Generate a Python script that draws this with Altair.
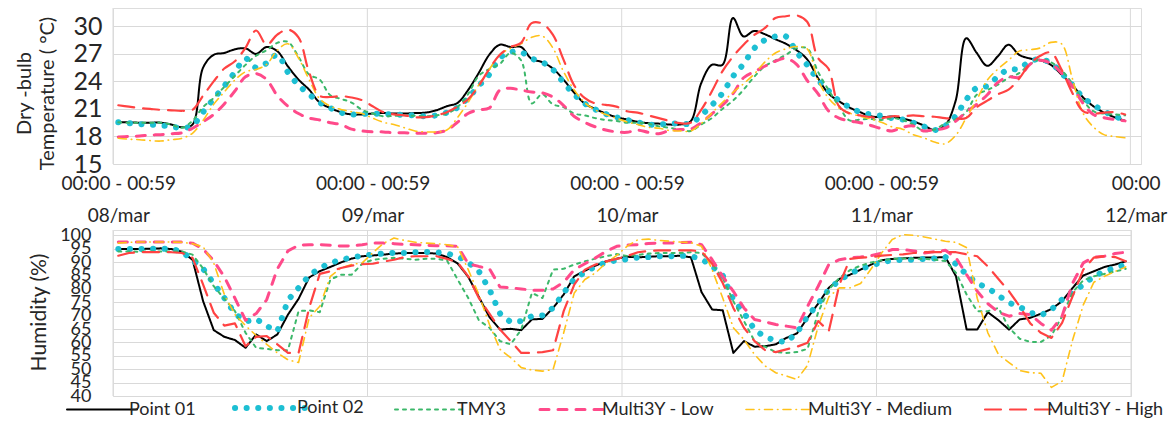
import json
import altair as alt
import pandas as pd

FONT = "Lato"
TEXT = "#262626"
GRID = "#d9d9d9"

series_names = ["Point 01", "Point 02", "TMY3", "Multi3Y - Low", "Multi3Y - Medium", "Multi3Y - High"]
series_colors = ["#000000", "#1DBFD3", "#3CB86A", "#FF4A8A", "#FFC21A", "#FF4242"]
series_dashes = [[1, 0], [0.1, 11.5], [3, 5], [9, 9], [8, 5, 0.5, 5], [16, 9]]
series_widths = [2, 6, 2, 3, 1.6, 2.2]

hours = list(range(96))
tick_hours = [0, 24, 48, 72, 96]
tick_times = ["00:00 - 00:59", "00:00 - 00:59", "00:00 - 00:59", "00:00 - 00:59", "00:00"]
tick_dates = ["08/mar", "09/mar", "10/mar", "11/mar", "12/mar"]
temp_ticks = [15, 18, 21, 24, 27, 30]
hum_ticks = [40, 45, 50, 55, 60, 65, 70, 75, 80, 85, 90, 95, 100]

# Dry-bulb temperature (°C), hourly
temp_p01 = [19.55, 19.55, 19.5, 19.5, 19.5, 19.3, 19.0, 19.3, 25.5, 26.9,
            27.1, 27.5, 27.6, 27.0, 27.75, 27.3, 25.65, 24.2, 23.1, 21.7,
            21.1, 20.65, 20.4, 20.4, 20.5, 20.55, 20.5, 20.5, 20.55, 20.6,
            20.85, 21.3, 21.65, 23.05, 24.9, 26.9, 28.0, 27.75, 27.75, 26.45,
            26.1, 25.4, 24.2, 22.8, 21.6, 21.0, 20.5, 20.1, 19.85, 19.6,
            19.45, 19.4, 19.3, 19.3, 19.65, 23.8, 25.8, 25.8, 30.9, 28.9,
            29.5, 29.15, 28.6, 28.1, 27.4, 26.4, 24.4, 22.7, 21.85, 21.15,
            20.65, 20.2, 20.1, 20.15, 19.95, 19.65, 19.2, 18.7, 19.2, 21.85,
            28.7, 27.1, 25.7, 26.75, 28.0, 26.9, 26.5, 26.3, 25.8, 24.75,
            23.6, 22.3, 21.3, 20.6, 20.1, 19.7]
temp_p02 = [19.55, 19.45, 19.35, 19.3, 19.2, 19.1, 18.9, 19.2, 20.65, 22.1,
            23.5, 25.0, 26.5, 25.5, 26.0, 26.9, 25.0, 23.6, 22.6, 21.7,
            21.1, 20.6, 20.4, 20.45, 20.5, 20.45, 20.4, 20.35, 20.3, 20.2,
            20.3, 20.6, 21.15, 22.2, 23.5, 24.75, 26.55, 27.2, 27.2, 26.5,
            26.1, 25.3, 23.9, 22.6, 21.6, 20.95, 20.45, 20.1, 19.8, 19.55,
            19.3, 19.3, 19.4, 19.4, 19.4, 20.3, 21.4, 22.7, 24.55, 25.9,
            27.6, 28.5, 28.9, 28.9, 27.2, 25.8, 24.2, 23.0, 21.9, 21.2,
            20.65, 20.4, 20.25, 20.0, 19.85, 19.5, 19.1, 18.7, 19.15, 20.2,
            22.0, 23.3, 23.5, 24.55, 25.3, 25.35, 26.2, 26.4, 26.0, 24.9,
            23.65, 22.3, 21.45, 20.75, 20.2, 19.85]
temp_tmy3 = [19.55, 19.5, 19.5, 19.5, 19.5, 19.3, 18.95, 19.7, 21.2, 22.2,
             23.4, 24.6, 25.8, 26.8, 27.4, 28.2, 28.3, 26.7, 24.75, 24.2,
             22.5, 22.1, 21.7, 20.9, 20.5, 20.2, 20.25, 20.3, 20.25, 20.2,
             20.3, 20.5, 21.2, 22.6, 24.6, 25.35, 25.9, 27.1, 26.3, 21.6,
             22.6, 21.5, 21.2, 20.5, 20.3, 20.0, 19.8, 19.7, 19.5, 19.5,
             19.4, 19.1, 18.95, 18.75, 18.6, 19.3, 20.0, 21.0, 21.9, 23.1,
             24.5, 25.65, 26.3, 26.9, 27.6, 27.6, 25.1, 23.1, 21.3, 19.75,
             19.85, 19.9, 19.8, 20.0, 19.8, 19.3, 18.6, 18.75, 19.4, 19.85,
             20.65, 22.55, 23.05, 23.65, 24.4, 24.9, 25.85, 26.4, 26.1, 25.2,
             23.8, 22.0, 20.75, 20.5, 20.4, 20.3]
temp_low = [17.95, 18.0, 18.05, 18.15, 18.2, 18.3, 18.4, 18.9, 19.6, 20.4,
            21.55, 22.95, 24.5, 24.85, 24.2, 22.45, 21.3, 20.5, 20.0, 19.8,
            19.5, 19.3, 18.8, 18.6, 18.5, 18.5, 18.4, 18.4, 18.35, 18.35,
            18.4, 18.7, 19.55, 20.5, 20.9, 21.1, 23.05, 23.25, 23.05, 22.85,
            22.75, 22.3, 21.4, 20.2, 19.55, 19.05, 18.7, 18.5, 18.45, 18.7,
            18.45, 18.3, 18.65, 18.75, 18.8, 19.5, 20.45, 21.4, 22.65, 24.4,
            25.05, 25.65, 26.2, 26.5, 25.85, 24.1, 22.7, 20.8, 20.0, 19.7,
            19.5, 19.2, 18.85, 18.6, 19.0, 19.15, 18.6, 18.75, 18.9, 19.65,
            20.65, 21.5, 22.55, 23.9, 24.5, 24.45, 25.85, 26.3, 25.95, 24.9,
            23.5, 21.65, 20.4, 20.05, 19.85, 19.7]
temp_med = [17.8, 17.7, 17.65, 17.55, 17.5, 17.65, 17.8, 18.35, 19.75, 21.5,
            22.85, 24.15, 25.05, 25.3, 25.85, 27.4, 28.1, 26.55, 24.2, 22.1,
            21.3, 20.95, 20.7, 20.5, 20.0, 19.55, 19.3, 18.95, 18.6, 18.5,
            18.5, 18.7, 20.05, 21.7, 23.6, 25.3, 26.9, 27.6, 28.1, 28.8,
            28.95, 27.65, 25.1, 23.1, 21.7, 20.9, 20.4, 20.0, 19.6, 19.3,
            19.0, 18.9, 18.65, 18.6, 18.6, 19.4, 20.55, 21.7, 22.8, 23.75,
            24.8, 26.1, 27.1, 27.55, 27.8, 27.55, 24.2, 22.2, 21.1, 20.55,
            20.2, 19.9, 19.55, 19.05, 18.8, 18.2, 17.85, 17.4, 17.2, 18.1,
            20.0, 22.0, 24.15, 25.35, 26.3, 27.3, 27.45, 27.65, 28.25, 28.1,
            24.4, 20.6, 19.05, 18.2, 18.0, 17.85]
temp_high = [21.4, 21.25, 21.1, 21.0, 20.9, 20.85, 20.8, 20.9, 22.45, 24.0,
             25.4, 26.2, 27.65, 29.55, 28.0, 29.1, 29.65, 28.8, 25.0, 22.45,
             22.3, 22.4, 22.25, 21.95, 21.3, 20.65, 20.4, 20.3, 20.1, 20.1,
             20.3, 20.65, 21.25, 22.05, 23.5, 25.35, 26.9, 27.75, 28.2, 30.35,
             30.3, 29.1, 26.4, 23.6, 22.2, 21.6, 21.45, 21.25, 20.75, 20.6,
             20.3, 20.0, 19.7, 19.45, 19.5, 20.9, 22.9, 25.1, 26.7, 28.0,
             29.05, 29.8, 30.9, 31.1, 31.2, 30.5, 26.6, 25.4, 21.3, 20.5,
             20.3, 20.1, 20.0, 20.2, 20.2, 20.3, 20.2, 20.15, 20.0, 19.95,
             20.0, 21.2, 21.9, 22.6, 23.1, 24.3, 25.9, 26.8, 27.15, 25.3,
             22.8, 20.8, 20.5, 20.6, 20.65, 20.4]

# Relative humidity (%), hourly
hum_p01 = [94.9, 94.9, 94.9, 95.0, 95.15, 94.9, 93.9, 90.9, 75.4, 64.6,
           62.1, 60.9, 58.0, 63.0, 60.5, 63.0, 70.4, 76.3, 84.3, 86.6,
           88.2, 89.9, 91.3, 92.2, 92.5, 92.8, 93.2, 93.4, 93.4, 93.4,
           93.2, 91.9, 89.5, 84.5, 77.0, 69.5, 64.8, 65.1, 64.6, 68.6,
           68.8, 72.9, 77.9, 84.7, 86.8, 88.7, 90.3, 91.3, 92.0, 91.8,
           92.0, 92.2, 92.2, 92.4, 91.8, 78.8, 72.3, 72.0, 56.1, 60.5,
           58.4, 58.6, 59.3, 61.7, 63.4, 69.2, 74.5, 80.4, 83.7, 85.3,
           87.2, 89.1, 90.7, 91.2, 91.4, 91.6, 91.7, 91.7, 91.9, 84.7,
           64.8, 64.8, 71.3, 68.3, 64.8, 68.6, 69.2, 70.7, 72.5, 75.4,
           80.4, 85.0, 86.6, 88.2, 89.1, 90.3]
hum_p02 = [94.9, 94.9, 94.9, 95.0, 95.0, 94.9, 94.0, 90.7, 87.5, 82.0,
           76.6, 70.8, 67.8, 68.8, 66.1, 64.2, 75.8, 80.4, 85.0, 87.8,
           89.7, 90.9, 91.7, 92.4, 92.8, 93.2, 93.4, 93.4, 93.7, 93.8,
           93.7, 93.2, 92.2, 89.9, 86.6, 79.8, 70.8, 67.6, 68.0, 69.8,
           70.1, 72.9, 78.5, 83.7, 86.2, 88.4, 89.9, 90.7, 91.1, 91.7,
           91.9, 92.2, 92.2, 92.4, 92.2, 91.2, 88.4, 85.0, 76.0, 71.1,
           64.8, 62.0, 60.7, 60.1, 63.6, 69.8, 74.5, 79.8, 83.2, 85.7,
           87.5, 88.7, 89.9, 90.7, 90.9, 90.9, 91.2, 91.4, 91.9, 89.3,
           85.3, 82.0, 80.4, 77.5, 74.8, 73.3, 71.1, 70.1, 72.3, 76.0,
           78.5, 81.6, 84.7, 86.6, 87.8, 89.1]
hum_tmy3 = [94.0, 94.0, 93.9, 94.0, 94.0, 94.0, 94.0, 92.8, 87.6, 81.0,
            76.3, 71.7, 63.6, 58.0, 57.6, 57.1, 57.1, 71.7, 72.0, 71.3,
            83.5, 85.3, 85.3, 89.4, 90.9, 91.3, 91.6, 91.3, 90.9, 91.3,
            91.3, 90.6, 83.5, 76.6, 68.3, 65.5, 60.5, 59.3, 64.8, 78.5,
            76.6, 87.2, 87.5, 89.1, 90.3, 91.3, 92.2, 93.0, 92.3, 92.7,
            93.2, 93.4, 93.4, 93.4, 93.7, 93.4, 89.4, 84.1, 75.4, 68.0,
            60.5, 58.4, 56.4, 56.1, 56.4, 57.6, 71.3, 79.8, 84.1, 87.0,
            88.7, 89.9, 90.7, 91.2, 91.4, 91.3, 91.2, 90.9, 90.4, 86.0,
            77.9, 71.7, 71.7, 72.9, 65.5, 61.4, 60.2, 60.2, 62.6, 69.8,
            78.8, 83.2, 84.7, 85.6, 86.5, 87.5]
hum_low = [97.5, 97.5, 97.5, 97.5, 97.5, 97.5, 97.5, 97.1, 94.9, 90.5,
           84.5, 76.5, 68.3, 70.8, 76.0, 87.5, 94.2, 96.3, 96.5, 96.5,
           96.3, 96.0, 96.1, 96.5, 97.1, 97.1, 96.9, 96.6, 96.5, 96.3,
           96.1, 96.1, 95.9, 89.4, 88.4, 87.5, 80.7, 80.4, 80.0, 79.5,
           79.5, 80.0, 82.5, 87.2, 89.4, 91.6, 94.0, 95.9, 96.4, 96.5,
           97.0, 97.1, 97.1, 97.3, 97.4, 96.5, 90.9, 84.7, 79.1, 72.9,
           68.6, 67.7, 66.7, 66.1, 65.5, 73.5, 81.0, 89.1, 90.9, 91.6,
           91.9, 92.4, 93.4, 94.7, 94.7, 94.2, 93.4, 93.9, 94.4, 91.6,
           85.3, 79.1, 74.5, 71.3, 69.8, 70.8, 70.4, 67.1, 64.6, 69.8,
           82.2, 89.7, 91.9, 92.2, 93.2, 93.7]
hum_med = [97.1, 97.4, 97.5, 97.5, 97.5, 97.5, 97.4, 96.9, 95.7, 89.7,
           77.9, 70.4, 66.3, 62.6, 59.3, 56.1, 53.5, 52.5, 69.2, 73.5,
           84.7, 87.8, 89.1, 89.7, 93.5, 97.0, 99.0, 98.1, 97.4, 97.1,
           96.9, 96.5, 95.7, 87.2, 77.9, 66.7, 57.4, 54.3, 50.6, 49.7,
           49.3, 49.9, 63.6, 78.5, 83.5, 86.0, 89.7, 92.5, 96.0, 98.4,
           98.6, 98.1, 97.8, 97.5, 97.3, 95.9, 87.2, 76.6, 65.5, 61.1,
           55.5, 51.2, 48.7, 47.5, 46.2, 51.5, 66.0, 77.0, 80.4, 80.4,
           82.0, 87.5, 93.5, 98.5, 100.3, 100.0, 99.4, 98.6, 97.8, 97.4,
           95.4, 76.5, 63.6, 55.5, 52.5, 49.5, 48.7, 48.5, 43.2, 45.5,
           61.0, 74.0, 82.5, 84.7, 86.5, 88.2]
hum_high = [92.4, 93.4, 93.7, 93.7, 93.7, 93.7, 93.4, 91.6, 81.6, 71.1,
            66.3, 67.1, 58.6, 62.1, 62.4, 59.3, 56.1, 56.1, 72.9, 85.6,
            86.6, 87.8, 88.7, 89.2, 89.4, 90.2, 90.9, 91.9, 92.2, 92.2,
            92.2, 91.2, 89.9, 84.7, 76.6, 70.8, 64.8, 60.5, 56.1, 56.1,
            56.4, 57.1, 71.7, 81.6, 87.2, 89.1, 90.3, 91.2, 92.3, 93.7,
            94.2, 94.4, 94.4, 94.4, 94.4, 94.0, 89.4, 82.2, 72.9, 65.5,
            60.5, 57.1, 56.4, 57.4, 58.4, 59.9, 68.0, 64.2, 81.6, 91.2,
            91.7, 91.9, 92.4, 92.7, 92.9, 93.4, 93.7, 93.7, 93.7, 93.7,
            92.9, 92.2, 88.4, 83.7, 79.1, 73.5, 67.1, 63.6, 61.7, 67.3,
            77.3, 87.2, 91.7, 92.2, 91.9, 90.3]

temp_series = [temp_p01, temp_p02, temp_tmy3, temp_low, temp_med, temp_high]
hum_series = [hum_p01, hum_p02, hum_tmy3, hum_low, hum_med, hum_high]


def long_df(all_values):
    rows = []
    for name, vals in zip(series_names, all_values):
        for h, v in zip(hours, vals):
            rows.append({"hour": h, "series": name, "value": v})
    return pd.DataFrame(rows)


temp_df = long_df(temp_series)
hum_df = long_df(hum_series)
day_edges = pd.DataFrame({"hour": [d * 24 - 0.5 for d in range(5)]})

label_expr = " : ".join(
    f"datum.value == {h} ? {json.dumps([t, d])}"
    for h, t, d in zip(tick_hours, tick_times, tick_dates)
) + " : ''"

color_scale = alt.Scale(domain=series_names, range=series_colors)
dash_scale = alt.Scale(domain=series_names, range=series_dashes)

# per-series stroke width (a line mark takes it from the first row of each series)
width_conditions = [
    {"test": f"datum.series === {json.dumps(n)}", "value": w}
    for n, w in zip(series_names, series_widths) if w != 2
]
stroke_width = alt.StrokeWidthValue(2, condition=width_conditions)
legend_width_expr = "".join(
    f"datum.value === {json.dumps(n)} ? {w} : "
    for n, w in zip(series_names, series_widths)
) + "2"

# ---------- top panel ----------
x_top_axis = alt.Axis(values=tick_hours, labelExpr=label_expr, grid=False, ticks=False,
                      tickSize=0, domain=False, labelFont=FONT, labelFontSize=19,
                      labelColor=TEXT, labelLineHeight=32, labelPadding=10,
                      labelOverlap=False, labelFlush=False, labelAngle=0, title=None)
x_top = alt.X("hour:Q", scale=alt.Scale(domain=[-0.5, 96.5], nice=False, zero=False),
              axis=x_top_axis)

y_top = alt.Y("value:Q", scale=alt.Scale(domain=[15, 32], nice=False, zero=False),
              axis=alt.Axis(values=temp_ticks, grid=True, gridColor=GRID, gridWidth=1,
                            ticks=False, tickSize=0, domain=False, labelFont=FONT,
                            labelFontSize=25, labelColor=TEXT, labelPadding=11,
                            labelOverlap=False,
                            title=["Dry -bulb", "Temperature ( °C)"], titleFont=FONT,
                            titleFontSize=20, titleFontWeight="normal", titleColor=TEXT,
                            titleLineHeight=23, titleX=-83, titleY=85, titleAngle=270,
                            titleAlign="center", titleBaseline="alphabetic"))

top_grid = alt.Chart(day_edges).mark_rule(color=GRID, strokeWidth=1).encode(x=x_top)
top_lines = alt.Chart(temp_df).mark_line(
    interpolate="catmull-rom", strokeCap="round", strokeJoin="round", clip=True
).encode(
    x=x_top,
    y=y_top,
    color=alt.Color("series:N", scale=color_scale, legend=None),
    strokeDash=alt.StrokeDash("series:N", scale=dash_scale, legend=None),
    strokeWidth=stroke_width,
)
top = alt.layer(top_grid, top_lines).properties(width=1028, height=156)

# ---------- bottom panel ----------
x_bot = alt.X("hour:Q", scale=alt.Scale(domain=[-0.5, 95.5], nice=False, zero=False),
              axis=None)
y_bot = alt.Y("value:Q", scale=alt.Scale(domain=[40, 102], nice=False, zero=False),
              axis=alt.Axis(values=hum_ticks, grid=True, gridColor=GRID, gridWidth=1,
                            ticks=False, tickSize=0, domain=False, labelFont=FONT,
                            labelFontSize=18, labelColor=TEXT, labelPadding=22,
                            labelOverlap=False,
                            title="Humidity (%)", titleFont=FONT, titleFontSize=21,
                            titleFontWeight="normal", titleColor=TEXT,
                            titleX=-68, titleY=82, titleAngle=270,
                            titleAlign="center", titleBaseline="alphabetic"))

legend = alt.Legend(orient="none", legendX=-20, legendY=169, direction="horizontal",
                    title=None, symbolType="stroke", symbolSize=4900,
                    labelFont=FONT, labelFontSize=18, labelColor=TEXT,
                    labelOffset=18, columnPadding=27, labelLimit=400, padding=0)
legend["encode"] = {"symbols": {"update": {
    "strokeCap": {"value": "round"},
    "strokeWidth": {"signal": legend_width_expr},
}}}

bot_grid = alt.Chart(day_edges).mark_rule(color=GRID, strokeWidth=1).encode(x=x_bot)
bot_lines = alt.Chart(hum_df).mark_line(
    strokeCap="round", strokeJoin="round", clip=True
).encode(
    x=x_bot,
    y=y_bot,
    color=alt.Color("series:N", scale=color_scale, legend=legend),
    strokeDash=alt.StrokeDash("series:N", scale=dash_scale, legend=legend),
    strokeWidth=stroke_width,
)
bottom = alt.layer(bot_grid, bot_lines).properties(width=1018, height=166)

chart = alt.vconcat(top, bottom, spacing=66, bounds="flush").resolve_scale(
    color="independent", strokeDash="independent"
).resolve_legend(
    color="independent", strokeDash="independent"
).properties(
    padding={"left": 13, "top": 7, "right": 0, "bottom": 0}
).configure_view(strokeWidth=0).configure(background="white", font=FONT)

# the legend's symbol encoding is not part of the published schema; skip validation
_orig_to_dict = type(chart).to_dict


def _to_dict_no_validate(self, *args, **kwargs):
    kwargs["validate"] = False
    return _orig_to_dict(self, **kwargs)


type(chart).to_dict = _to_dict_no_validate

chart.save("out.html", embed_options={"renderer": "svg", "actions": False})
